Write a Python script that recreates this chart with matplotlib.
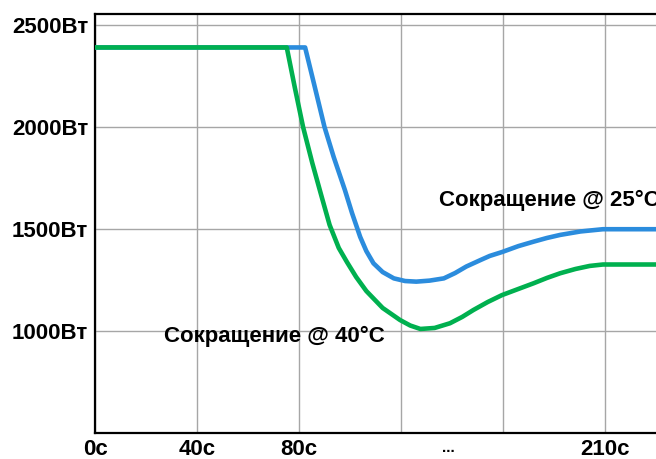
import matplotlib
matplotlib.use("Agg")
import matplotlib.pyplot as plt

# positions along the x axis are in grid steps (the axis is not linear in seconds)
tick_pos = [0, 1, 2, 3, 4, 5]
tick_labels = ['0c', '40c', '80c', '', '', '210c']
gap_pos = 3.46
gap_label = '...'

y_ticks = [1000, 1500, 2000, 2500]
y_labels = ['1000Вт', '1500Вт', '2000Вт', '2500Вт']

# 25°C derating curve (blue)
blue_x = [0, 2.06, 2.15, 2.25, 2.34, 2.45, 2.52, 2.60, 2.66, 2.73, 2.82, 2.93,
          3.04, 3.15, 3.28, 3.42, 3.53, 3.64, 3.78, 3.87, 3.99, 4.15, 4.30,
          4.43, 4.56, 4.76, 4.98, 5.6]
blue_y = [2390, 2390, 2206, 2000, 1853, 1691, 1578, 1461, 1392, 1332, 1289, 1258,
          1245, 1242, 1247, 1258, 1284, 1316, 1348, 1368, 1387, 1416, 1438,
          1456, 1471, 1488, 1499, 1499]

# 40°C derating curve (green)
green_x = [0, 1.88, 1.96, 2.04, 2.13, 2.22, 2.30, 2.39, 2.47, 2.56, 2.66, 2.82,
           2.99, 3.09, 3.19, 3.33, 3.48, 3.60, 3.71, 3.85, 3.99, 4.15, 4.30,
           4.43, 4.56, 4.71, 4.85, 4.98, 5.6]
green_y = [2390, 2390, 2191, 2000, 1824, 1662, 1520, 1407, 1338, 1265, 1196, 1113,
           1054, 1027, 1010, 1015, 1038, 1069, 1103, 1142, 1176, 1206, 1234,
           1260, 1283, 1304, 1319, 1326, 1326]

plt.rcParams['font.family'] = ['Liberation Sans', 'DejaVu Sans']

fig = plt.figure(figsize=(6.56, 4.59), dpi=100)
ax = fig.add_axes([95/656, 26/459, 561/656, 419/459])

ax.plot(blue_x, blue_y, color='#2B8CDD', lw=3.3, solid_joinstyle='round',
        solid_capstyle='butt', zorder=3)
ax.plot(green_x, green_y, color='#00B04F', lw=3.3, solid_joinstyle='round',
        solid_capstyle='butt', zorder=4)

ax.set_xlim(0, 5.5)
ax.set_ylim(500, 2554)

ax.set_xticks(tick_pos)
ax.set_xticklabels(tick_labels, fontsize=16, fontweight='bold')
ax.set_xticks([gap_pos], minor=True)
ax.set_xticklabels([gap_label], minor=True, fontsize=11, fontweight='bold')
ax.set_yticks(y_ticks)
ax.set_yticklabels(y_labels, fontsize=16, fontweight='bold')

ax.tick_params(axis='both', which='both', length=0)
ax.tick_params(axis='x', which='major', pad=4)
ax.tick_params(axis='x', which='minor', pad=6)
ax.tick_params(axis='y', pad=5)

ax.grid(True, which='major', color='#A6A6A6', lw=1.0)
ax.set_axisbelow(True)

for side in ['left', 'bottom', 'top']:
    ax.spines[side].set_color('black')
    ax.spines[side].set_linewidth(1.6)
ax.spines['right'].set_visible(False)

ax.text(1.755, 975, 'Сокращение @ 40°C', fontsize=16, fontweight='bold',
        ha='center', va='center')
ax.text(3.37, 1642, 'Сокращение @ 25°C', fontsize=16, fontweight='bold',
        ha='left', va='center', clip_on=False)

fig.savefig('out.png', dpi=100)
